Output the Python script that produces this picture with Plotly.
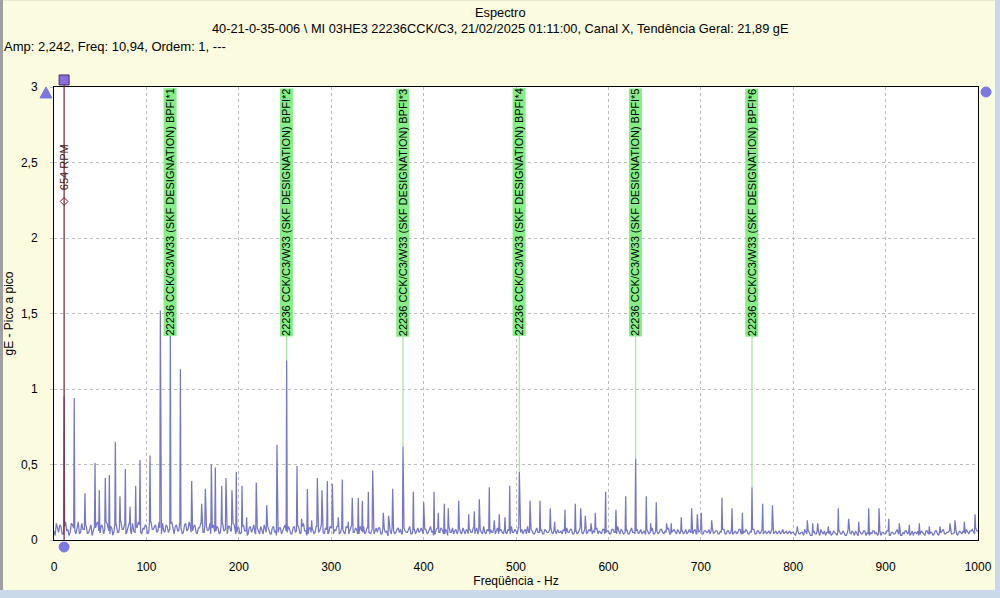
import plotly.graph_objects as go

# ---------------- data ----------------
# noise floor sampled every 2.5 Hz from 0 to 1000 Hz (values read off picture)
floor_step = 2.5
floor_vals = [
    0.06,0.11,0.05,0.09,0.04,0.12,0.07,0.05,0.10,0.06,0.08,0.04,0.11,0.07,0.09,0.05,0.10,0.06,0.08,0.12,
    0.05,0.09,0.07,0.11,0.04,0.08,0.06,0.10,0.05,0.12,0.07,0.04,0.09,0.06,0.11,0.05,0.08,0.10,0.04,0.07,
    0.09,0.05,0.12,0.07,0.10,0.06,0.08,0.11,0.05,0.09,0.07,0.12,0.04,0.10,0.06,0.08,0.05,0.11,0.07,0.09,
    0.06,0.10,0.04,0.08,0.11,0.05,0.09,0.07,0.04,0.10,0.06,0.08,0.05,0.11,0.07,0.04,0.09,0.06,0.10,0.05,
    0.08,0.05,0.10,0.06,0.04,0.09,0.07,0.05,0.08,0.04,0.06,0.10,0.05,0.07,0.04,0.09,0.06,0.05,0.08,0.06,
    0.10,0.05,0.07,0.04,0.09,0.06,0.08,0.05,0.11,0.06,0.04,0.08,0.07,0.05,0.09,0.06,0.10,0.04,0.07,0.05,
    0.08,0.04,0.06,0.09,0.05,0.07,0.04,0.08,0.06,0.10,0.05,0.07,0.04,0.06,0.09,0.05,0.08,0.04,0.07,0.06,
    0.05,0.08,0.04,0.07,0.06,0.09,0.04,0.06,0.05,0.08,0.07,0.04,0.06,0.05,0.09,0.04,0.07,0.06,0.05,0.08,
    0.04,0.07,0.05,0.09,0.06,0.04,0.08,0.05,0.07,0.04,0.06,0.09,0.05,0.04,0.07,0.06,0.05,0.08,0.04,0.06,
    0.07,0.05,0.04,0.08,0.06,0.05,0.09,0.04,0.06,0.07,0.05,0.04,0.08,0.06,0.05,0.07,0.04,0.06,0.09,0.05,
    0.06,0.08,0.05,0.04,0.07,0.09,0.05,0.06,0.04,0.08,0.05,0.07,0.04,0.06,0.05,0.08,0.04,0.06,0.07,0.05,
    0.04,0.06,0.08,0.05,0.07,0.04,0.06,0.05,0.08,0.04,0.07,0.05,0.06,0.04,0.05,0.08,0.06,0.04,0.07,0.05,
    0.06,0.04,0.07,0.05,0.09,0.04,0.06,0.05,0.07,0.04,0.08,0.05,0.06,0.04,0.07,0.05,0.04,0.06,0.05,0.08,
    0.04,0.06,0.05,0.07,0.04,0.05,0.08,0.04,0.06,0.05,0.07,0.04,0.06,0.05,0.04,0.07,0.05,0.06,0.04,0.05,
    0.07,0.04,0.06,0.05,0.04,0.08,0.05,0.06,0.04,0.05,0.07,0.04,0.06,0.05,0.04,0.06,0.05,0.07,0.04,0.05,
    0.06,0.04,0.05,0.07,0.04,0.06,0.05,0.04,0.06,0.05,0.04,0.07,0.05,0.04,0.06,0.05,0.04,0.06,0.05,0.04,
    0.05,0.03,0.06,0.04,0.05,0.07,0.04,0.05,0.03,0.06,0.04,0.05,0.07,0.04,0.03,0.05,0.06,0.04,0.05,0.03,
    0.06,0.04,0.05,0.03,0.07,0.04,0.05,0.06,0.03,0.05,0.04,0.06,0.05,0.03,0.04,0.06,0.05,0.04,0.03,0.05,
    0.04,0.06,0.03,0.05,0.04,0.07,0.05,0.03,0.04,0.06,0.05,0.04,0.03,0.05,0.06,0.04,0.05,0.03,0.06,0.04,
    0.05,0.04,0.06,0.03,0.05,0.07,0.04,0.05,0.06,0.04,0.05,0.03,0.06,0.04,0.05,0.07,0.04,0.06,0.05,0.08,
    0.06,
]
# noise floor read at the in-between frequencies (1.25 Hz + k*2.5 Hz)
floor_mid = [
    0.03,0.08,0.10,0.04,0.09,0.06,0.03,0.11,0.08,0.04,0.12,0.05,0.07,0.10,0.04,0.08,0.03,0.09,0.11,0.06,
    0.10,0.04,0.12,0.06,0.09,0.03,0.11,0.05,0.08,0.07,0.10,0.05,0.11,0.04,0.06,0.09,0.12,0.05,0.08,0.10,
    0.04,0.11,0.07,0.09,0.05,0.12,0.04,0.06,0.10,0.05,0.11,0.08,0.09,0.06,0.12,0.04,0.10,0.06,0.12,0.05,
    0.09,0.05,0.08,0.11,0.05,0.10,0.06,0.11,0.08,0.05,0.09,0.04,0.10,0.06,0.04,0.09,0.06,0.11,0.04,0.08,
    0.04,0.09,0.06,0.03,0.08,0.05,0.10,0.04,0.06,0.09,0.04,0.07,0.09,0.04,0.08,0.05,0.03,0.08,0.04,0.09,
    0.06,0.09,0.04,0.08,0.05,0.10,0.04,0.09,0.06,0.03,0.08,0.05,0.04,0.09,0.05,0.10,0.05,0.08,0.04,0.09,
    0.05,0.07,0.09,0.04,0.08,0.05,0.09,0.04,0.09,0.05,0.08,0.04,0.09,0.05,0.04,0.08,0.05,0.07,0.04,0.08,
    0.08,0.04,0.07,0.05,0.03,0.06,0.08,0.04,0.07,0.05,0.04,0.08,0.05,0.07,0.04,0.06,0.04,0.08,0.06,0.04,
    0.07,0.04,0.08,0.05,0.03,0.07,0.05,0.08,0.04,0.07,0.03,0.05,0.08,0.06,0.04,0.08,0.04,0.05,0.07,0.04,
    0.05,0.08,0.06,0.04,0.07,0.04,0.05,0.07,0.04,0.05,0.08,0.06,0.04,0.07,0.04,0.05,0.07,0.04,0.05,0.07,
    0.04,0.05,0.07,0.06,0.04,0.05,0.07,0.04,0.07,0.05,0.06,0.04,0.07,0.05,0.07,0.05,0.07,0.04,0.05,0.06,
    0.07,0.04,0.05,0.07,0.04,0.06,0.04,0.07,0.05,0.06,0.04,0.07,0.04,0.06,0.07,0.04,0.05,0.07,0.04,0.06,
    0.04,0.07,0.05,0.04,0.06,0.07,0.04,0.06,0.04,0.06,0.05,0.04,0.07,0.05,0.04,0.06,0.07,0.04,0.06,0.04,
    0.06,0.04,0.07,0.05,0.06,0.07,0.04,0.05,0.07,0.04,0.05,0.06,0.04,0.07,0.05,0.05,0.04,0.07,0.05,0.06,
    0.04,0.06,0.05,0.07,0.06,0.04,0.06,0.04,0.06,0.07,0.04,0.06,0.04,0.07,0.05,0.04,0.07,0.04,0.06,0.07,
    0.04,0.06,0.07,0.04,0.06,0.04,0.07,0.05,0.04,0.06,0.06,0.04,0.06,0.05,0.04,0.07,0.05,0.04,0.06,0.05,
    0.04,0.06,0.04,0.05,0.03,0.05,0.06,0.03,0.05,0.04,0.06,0.03,0.05,0.06,0.05,0.04,0.03,0.06,0.04,0.05,
    0.04,0.06,0.03,0.05,0.05,0.06,0.03,0.04,0.06,0.04,0.06,0.03,0.04,0.05,0.06,0.04,0.03,0.06,0.05,0.04,
    0.06,0.03,0.05,0.04,0.06,0.04,0.03,0.05,0.06,0.04,0.03,0.06,0.05,0.04,0.03,0.06,0.04,0.06,0.04,0.05,
    0.03,0.06,0.04,0.05,0.06,0.04,0.05,0.06,0.04,0.05,0.06,0.04,0.05,0.06,0.04,0.05,0.06,0.07,0.04,0.06,
]

# discrete spectral peaks (Hz, gE)
peak_freqs = [
    10.94, 21.9, 33.5, 44.4, 49.0, 55.5, 59.9, 66.4, 71.4, 77.2, 82.3, 88.4, 93.1, 103.9,
    115.1, 125.9, 136.8, 149.0, 159.8, 163.8, 170.3, 174.6, 181.5, 186.1, 192.6, 197.3,
    203.5, 208.5, 218.9, 230.2, 241.3, 251.8, 263.0, 268.0, 274.2, 278.9, 285.0, 290.0,
    295.8, 301.2, 307.7, 312.0, 318.5, 322.8, 329.3, 333.7, 340.2, 344.9, 356.4, 362.1,
    366.5, 377.7, 388.9, 400.1, 411.3, 415.9, 422.4, 426.7, 438.0, 448.8, 454.9, 460.3,
    471.1, 476.5, 481.9, 488.1, 493.2, 503.6, 515.2, 526.0, 537.1, 541.8, 553.0, 564.2,
    570.0, 575.0, 581.2, 585.8, 597.0, 608.2, 618.7, 629.5, 641.0, 645.8, 651.8, 663.0,
    668.0, 678.9, 690.1, 696.2, 700.5, 711.8, 722.9, 733.8, 745.0, 755.4, 767.0, 777.5,
    804.5, 815.3, 821.1, 826.5, 838.0, 848.8, 860.0, 870.9, 881.7, 892.9, 903.4, 914.9,
    925.7, 936.5, 947.3, 958.9, 969.7, 975.1, 985.2, 996.8,
]
peak_amps = [
    0.95, 0.94, 0.31, 0.51, 0.33, 0.41, 0.43, 0.65, 0.29, 0.47, 0.22, 0.36, 0.53, 0.56,
    1.52, 1.38, 1.13, 0.39, 0.24, 0.34, 0.50, 0.48, 0.36, 0.41, 0.33, 0.45,
    0.36, 0.15, 0.38, 0.23, 0.63, 1.19, 0.49, 0.14, 0.34, 0.13, 0.41, 0.33,
    0.39, 0.37, 0.15, 0.40, 0.12, 0.28, 0.28, 0.26, 0.32, 0.46, 0.18, 0.16,
    0.34, 0.62, 0.32, 0.25, 0.32, 0.18, 0.24, 0.21, 0.26, 0.17, 0.19, 0.27,
    0.35, 0.13, 0.17, 0.15, 0.36, 0.45, 0.26, 0.26, 0.21, 0.12, 0.20, 0.24,
    0.21, 0.16, 0.11, 0.18, 0.32, 0.20, 0.29, 0.54, 0.29, 0.11, 0.25, 0.11,
    0.11, 0.15, 0.21, 0.17, 0.18, 0.13, 0.28, 0.21, 0.18, 0.35, 0.24, 0.23,
    0.09, 0.13, 0.11, 0.11, 0.09, 0.21, 0.14, 0.12, 0.21, 0.21, 0.14, 0.11,
    0.10, 0.11, 0.09, 0.09, 0.11, 0.13, 0.12, 0.17,
]

# bearing fault frequency markers (BPFI harmonics)
bpfi_freqs = [125.9, 251.8, 377.7, 503.6, 629.5, 755.4]
bpfi_labels = ["22236 CCK/C3/W33 (SKF DESIGNATION) BPFI*%d" % k for k in range(1, 7)]

# cursor
cursor_freq = 10.94
cursor_amp = 2.242
cursor_label = "654 RPM"

x_range = [0, 1000]
y_range = [0, 3]
x_tickvals = [0, 100, 200, 300, 400, 500, 600, 700, 800, 900, 1000]
x_ticktext = ["0", "100", "200", "300", "400", "500", "600", "700", "800", "900", "1000"]
y_tickvals = [0, 0.5, 1, 1.5, 2, 2.5, 3]
y_ticktext = ["0", "0,5", "1", "1,5", "2", "2,5", "3"]

title_text = "Espectro"
subtitle_text = "40-21-0-35-006 \\ MI 03HE3 22236CCK/C3, 21/02/2025 01:11:00, Canal X, Tendência Geral: 21,89 gE"
cursor_info = "Amp: 2,242, Freq: 10,94, Ordem: 1, ---"
x_title = "Freqüência - Hz"
y_title = "gE - Pico a pico"

# ---------------- build spectrum line ----------------
floor_pts = [(i * floor_step, v) for i, v in enumerate(floor_vals)]
floor_pts += [(floor_step / 2 + i * floor_step, v) for i, v in enumerate(floor_mid)]
floor_pts.sort(key=lambda p: p[0])
fine_step = floor_step / 2


def floor_at(f):
    i = min(max(int(round(f / fine_step)), 0), len(floor_pts) - 1)
    return floor_pts[i][1]


half = 0.6
peak_windows = [(f - half, f + half) for f in peak_freqs]
pts = [p for p in floor_pts if not any(lo <= p[0] <= hi for lo, hi in peak_windows)]
for f, a in zip(peak_freqs, peak_amps):
    pts.append((f - half, floor_at(f - half)))
    pts.append((f, a))
    pts.append((f + half, floor_at(f + half)))
pts.sort(key=lambda p: p[0])
sx = [p[0] for p in pts]
sy = [p[1] for p in pts]

FONT = "Arial, Liberation Sans, sans-serif"
LINE_COLOR = "#7676c8"
MARK_COLOR = "#7c78e0"

fig = go.Figure()

fig.add_trace(go.Scatter(x=sx, y=sy, mode="lines",
                         line=dict(color=LINE_COLOR, width=1.25),
                         hoverinfo="skip", showlegend=False))


def amp_near(f):
    best = min(range(len(peak_freqs)), key=lambda i: abs(peak_freqs[i] - f))
    return peak_amps[best]


label_bottom = 1.37
for f in bpfi_freqs:
    a = amp_near(f)
    if a < label_bottom:
        fig.add_shape(type="line", x0=f, x1=f, y0=a, y1=label_bottom,
                      line=dict(color="#9ee89e", width=1.2), layer="above")

for f, t in zip(bpfi_freqs, bpfi_labels):
    fig.add_annotation(x=f, y=2.995, text=t, textangle=-90, showarrow=False,
                       xanchor="center", yanchor="top",
                       bgcolor="#86ee86", borderpad=0,
                       font=dict(family=FONT, size=11, color="black"))

# cursor line
fig.add_shape(type="line", x0=cursor_freq, x1=cursor_freq, y0=0, y1=3,
              line=dict(color="#7a1f2f", width=1.2), layer="above")
fig.add_trace(go.Scatter(x=[cursor_freq], y=[cursor_amp], mode="markers",
                         marker=dict(symbol="diamond-open", size=6, color="#7a1f2f", line=dict(width=1)),
                         hoverinfo="skip", showlegend=False))
fig.add_annotation(x=cursor_freq, y=2.47, text=cursor_label, textangle=-90, showarrow=False,
                   xanchor="center", yanchor="middle",
                   font=dict(family=FONT, size=11, color="#3a2020"))

# cursor handle markers around the plot frame (paper coords derived from the axis ranges)
cx = (cursor_freq - x_range[0]) / (x_range[1] - x_range[0])
fig.add_shape(type="line", xref="paper", yref="paper", x0=cx, x1=cx, y0=1.0, y1=1.016,
              line=dict(color="#7a1f2f", width=1.2))
fig.add_shape(type="rect", xref="paper", yref="paper", xsizemode="pixel", ysizemode="pixel",
              xanchor=cx, yanchor=1.0155, x0=-5, x1=5, y0=-5, y1=5,
              fillcolor="#8a6ee0", line=dict(color="#4a2a60", width=1))
fig.add_shape(type="circle", xref="paper", yref="paper", xsizemode="pixel", ysizemode="pixel",
              xanchor=cx, yanchor=-0.0155, x0=-5, x1=5, y0=-5, y1=5,
              fillcolor=MARK_COLOR, line=dict(color=MARK_COLOR, width=1))
fig.add_shape(type="path", xref="paper", yref="paper", xsizemode="pixel", ysizemode="pixel",
              xanchor=-0.0087, yanchor=0.9868, path="M -6,-5 L 6,-5 L 0,6 Z",
              fillcolor=MARK_COLOR, line=dict(color=MARK_COLOR, width=1))
fig.add_shape(type="circle", xref="paper", yref="paper", xsizemode="pixel", ysizemode="pixel",
              xanchor=1.0087, yanchor=0.989, x0=-5, x1=5, y0=-5, y1=5,
              fillcolor=MARK_COLOR, line=dict(color=MARK_COLOR, width=1))

# header texts (centred on the window, not the plot area)
page_center = (500 - 54) / 924
fig.add_annotation(xref="paper", yref="paper", x=page_center, y=1, yshift=75, xanchor="center", yanchor="middle",
                   text=title_text, showarrow=False, font=dict(family=FONT, size=12.8, color="black"))
fig.add_annotation(xref="paper", yref="paper", x=page_center, y=1, yshift=59, xanchor="center", yanchor="middle",
                   text=subtitle_text, showarrow=False, font=dict(family=FONT, size=12.8, color="black"))
fig.add_annotation(xref="paper", yref="paper", x=0, xshift=-52, y=1, yshift=41,
                   xanchor="left", yanchor="middle", text=cursor_info, showarrow=False,
                   font=dict(family=FONT, size=13, color="black"))

# window frame decoration (left edge, top edge, bottom and right bands)
fig.add_shape(type="rect", xref="paper", yref="paper", x0=-0.06, x1=-0.0552, y0=-0.14, y1=1.2,
              fillcolor="#a0a0a0", line=dict(width=0), layer="below")
fig.add_shape(type="rect", xref="paper", yref="paper", x0=-0.06, x1=1.03, y0=1.1915, y1=1.2,
              fillcolor="#a8a8a8", line=dict(width=0), layer="below")
fig.add_shape(type="rect", xref="paper", yref="paper", x0=-0.06, x1=1.03, y0=-0.14, y1=-0.1104,
              fillcolor="#c9d9e9", line=dict(width=0), layer="below")
fig.add_shape(type="rect", xref="paper", yref="paper", x0=1.0184, x1=1.03, y0=-0.14, y1=1.2,
              fillcolor="#c9d9e9", line=dict(width=0), layer="below")

fig.update_layout(
    width=1000, height=598,
    margin=dict(l=54, r=22, t=87, b=58, autoexpand=False),
    paper_bgcolor="#fbfbdf",
    plot_bgcolor="white",
    font=dict(family=FONT, size=12, color="black"),
    showlegend=False,
    xaxis=dict(range=x_range, tickvals=x_tickvals, ticktext=x_ticktext,
               showgrid=True, gridcolor="#bcbcbc", griddash="3px,3px", gridwidth=1,
               showline=True, linecolor="black", linewidth=1, mirror=True,
               ticks="", zeroline=False, ticklabelstandoff=16, automargin=False,
               title=dict(text=x_title, standoff=2, font=dict(size=12))),
    yaxis=dict(range=y_range, tickvals=y_tickvals, ticktext=y_ticktext,
               showgrid=True, gridcolor="#bcbcbc", griddash="3px,3px", gridwidth=1,
               showline=True, linecolor="black", linewidth=1, mirror=True,
               ticks="outside", ticklen=3, tickcolor="#c0c0c0", zeroline=False,
               ticklabelstandoff=10, automargin=False,
               title=dict(text=y_title, standoff=4, font=dict(size=12))),
)

fig.write_html("out.html", config={"displayModeBar": False})

# remove default page margin so the figure sits at the window origin
with open("out.html", encoding="utf-8") as fh:
    html = fh.read()
html = html.replace("<head>", "<head><style>html,body{margin:0;padding:0;overflow:hidden;}</style>", 1)
with open("out.html", "w", encoding="utf-8") as fh:
    fh.write(html)
